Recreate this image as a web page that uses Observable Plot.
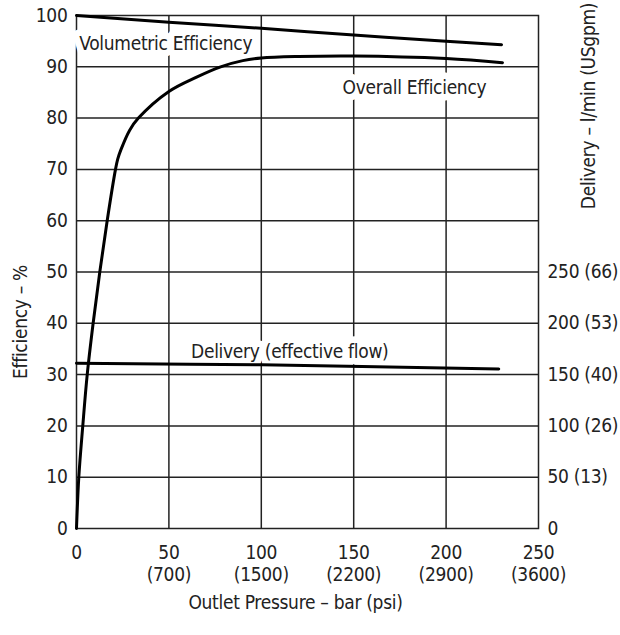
<!DOCTYPE html>
<html>
<head>
<meta charset="utf-8">
<script src="https://cdn.jsdelivr.net/npm/d3@7"></script>
<script src="https://cdn.jsdelivr.net/npm/@observablehq/plot@0.6"></script>
<style>
  html, body { margin: 0; padding: 0; background: #fff; }
  #chart svg { display: block; }
  #chart svg text { letter-spacing: -0.3px; }
</style>
</head>
<body>
<div id="chart"></div>
<script>
// Volumetric efficiency (%) vs outlet pressure (bar)
const volPressure = [0, 50, 100, 150, 200, 230];
const volEfficiency = [100, 98.7, 97.5, 96.2, 95.0, 94.3];

// Overall efficiency (%) vs outlet pressure (bar)
const overallPressure = [0, 1.25, 3.4, 5.8, 9.0, 12.6, 16.6, 21.1, 22.3, 24, 28.7, 33.5, 50, 65, 78, 90, 100, 120, 150, 200, 230.5];
const overallEfficiency = [0, 10, 20, 30, 40, 50, 60, 70, 72, 73.8, 77.6, 80, 85.2, 88, 90, 91.2, 91.7, 92.0, 92.1, 91.6, 90.8];

// Delivery (effective flow), l/min vs outlet pressure (bar)
const deliveryPressure = [0, 100, 228.5];
const deliveryFlow = [161, 159.5, 155.5];

// Axis ticks
const xTickValues = [0, 50, 100, 150, 200, 250];
const xTickLabels = ["0", "50\n(700)", "100\n(1500)", "150\n(2200)", "200\n(2900)", "250\n(3600)"];
const yTickValues = [0, 10, 20, 30, 40, 50, 60, 70, 80, 90, 100];
const deliveryTickValues = [0, 50, 100, 150, 200, 250];
const deliveryTickLabels = ["0", "50 (13)", "100 (26)", "150 (40)", "200 (53)", "250 (66)"];
const flowPerPercent = 5; // right axis: 250 l/min at 50 %

// Curve labels
const curveLabels = [
  {x: 1.5, y: 94.5, text: "Volumetric Efficiency"},
  {x: 144, y: 85.8, text: "Overall Efficiency"},
  {x: 62, y: 34.4, text: "Delivery (effective flow)"}
];

const volData = volPressure.map((p, i) => ({p, v: volEfficiency[i]}));
const overallData = overallPressure.map((p, i) => ({p, v: overallEfficiency[i]}));
const deliveryData = deliveryPressure.map((p, i) => ({p, v: deliveryFlow[i] / flowPerPercent}));

const FONT = "'DejaVu Sans Condensed', 'DejaVu Sans', sans-serif";
const FS = 19;

const chart = Plot.plot({
  width: 620,
  height: 635,
  marginLeft: 76,
  marginRight: 82,
  marginTop: 15,
  marginBottom: 107,
  style: {fontFamily: FONT, fontSize: FS + "px", color: "#222", background: "#fff", overflow: "visible"},
  x: {domain: [0, 250]},
  y: {domain: [0, 100]},
  marks: [
    Plot.gridX(xTickValues.slice(1, -1), {stroke: "#222", strokeOpacity: 1, strokeWidth: 1.5}),
    Plot.gridY(yTickValues.slice(1, -1), {stroke: "#222", strokeOpacity: 1, strokeWidth: 1.5}),
    Plot.frame({stroke: "#222", strokeWidth: 1.5}),
    Plot.axisY(yTickValues, {anchor: "left", tickSize: 0, tickPadding: 9, label: null, fontSize: FS}),
    Plot.axisY(deliveryTickValues.map(d => d / flowPerPercent), {
      anchor: "right", tickSize: 0, tickPadding: 9, label: null, fontSize: FS,
      tickFormat: (d, i) => deliveryTickLabels[i]
    }),
    Plot.axisX(xTickValues, {
      anchor: "bottom", tickSize: 0, tickPadding: 14, label: null, fontSize: FS, lineHeight: 1.2,
      tickFormat: (d, i) => xTickLabels[i]
    }),
    Plot.text(curveLabels, {
      x: "x", y: "y", text: "text", textAnchor: "start", fontSize: FS, fill: "#222",
      stroke: "white", strokeWidth: 13, strokeLinejoin: "round"
    }),
    Plot.line(volData, {x: "p", y: "v", stroke: "black", strokeWidth: 3, curve: "catmull-rom"}),
    Plot.line(overallData, {x: "p", y: "v", stroke: "black", strokeWidth: 3, curve: "catmull-rom"}),
    Plot.line(deliveryData, {x: "p", y: "v", stroke: "black", strokeWidth: 3, curve: "catmull-rom"}),
    Plot.text(["Efficiency – %"], {frameAnchor: "left", textAnchor: "middle", dx: -56, dy: 50, rotate: -90, fontSize: FS, fill: "#222"}),
    Plot.text(["Delivery – l/min (USgpm)"], {frameAnchor: "right", textAnchor: "middle", dx: 50, dy: -166, rotate: -90, fontSize: FS, fill: "#222"}),
    Plot.text(["Outlet Pressure – bar (psi)"], {frameAnchor: "bottom", textAnchor: "middle", dx: -12, dy: 80, fontSize: FS, fill: "#222"})
  ]
});
document.getElementById("chart").appendChild(chart);
</script>
</body>
</html>
